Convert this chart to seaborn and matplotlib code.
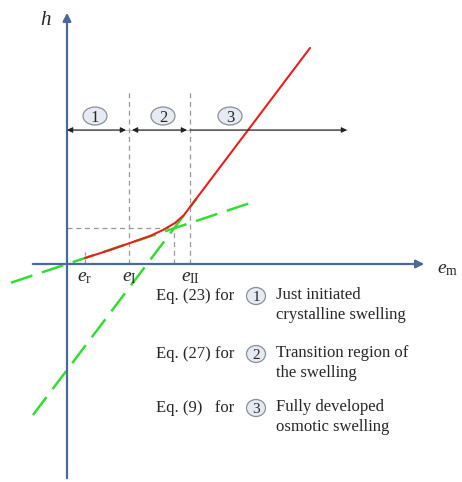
import matplotlib
matplotlib.use("Agg")
import matplotlib.pyplot as plt
from matplotlib.patches import Ellipse
import pandas as pd
import seaborn as sns

# schematic coordinates (origin at e = 0, h = 0)
curve_e = [18, 43, 63, 83, 96, 108, 117, 123, 243]
curve_h = [6, 14, 21, 28, 34, 41, 49, 57, 216]

tangent1_e = [-56, 187]
tangent1_h = [-18.7, 62.3]
tangent2_e = [-34, 130]
tangent2_h = [-151, 66]

e_r, e_I, e_cross, e_II = 18, 62, 107, 123
h_cross = 36
region_top = 175
arrow_h = 134
arrow_end = 280
region_labels = ["1", "2", "3"]
region_centers = [28, 96, 163]

eq_names = ["Eq. (23) for", "Eq. (27) for", "Eq. (9)   for"]
eq_desc = ["Just initiated\ncrystalline swelling",
           "Transition region of\nthe swelling",
           "Fully developed\nosmotic swelling"]
eq_rows = [-32, -90, -144]

sns.set_style("white")
plt.rcParams["font.family"] = ["Liberation Serif", "DejaVu Serif"]
plt.rcParams["mathtext.fontset"] = "custom"
plt.rcParams["mathtext.rm"] = "Liberation Serif"
plt.rcParams["mathtext.it"] = "Liberation Serif:italic"

fig = plt.figure(figsize=(4.62, 4.82), dpi=100)
ax = fig.add_axes([0, 0, 1, 1])
ax.set_xlim(-67, 395)
ax.set_ylim(-218, 264)
ax.axis("off")

axis_col = "#4a6a9a"
ax.annotate("", xy=(360, 0), xytext=(-37, 0),
            arrowprops=dict(arrowstyle="-|>", color=axis_col, lw=1.6, mutation_scale=12))
ax.annotate("", xy=(0, 254), xytext=(0, -217),
            arrowprops=dict(arrowstyle="-|>", color=axis_col, lw=1.6, mutation_scale=12))
ax.text(-21, 244, "$h$", fontsize=15, fontweight="bold", ha="center", va="center")
ax.text(381, -5, r"$e_\mathrm{m}$", fontsize=14, ha="center", va="center")

# helper dashed lines
grey = "#999999"
dash_kw = dict(color=grey, lw=0.9, ls=(0, (4, 3)))
ax.plot([e_I, e_I], [0, region_top], **dash_kw)
ax.plot([e_II, e_II], [0, region_top], **dash_kw)
ax.plot([0, e_cross], [h_cross, h_cross], **dash_kw)
ax.plot([e_cross, e_cross], [0, h_cross], **dash_kw)
ax.plot([e_r, e_r], [0, 12], **dash_kw)

# region arrows
akw = dict(color="#222222", lw=0.8, mutation_scale=8, shrinkA=0, shrinkB=0)
ax.annotate("", xy=(e_I - 3, arrow_h), xytext=(0, arrow_h),
            arrowprops=dict(arrowstyle="<|-|>", **akw))
ax.annotate("", xy=(e_II - 3, arrow_h), xytext=(e_I + 3, arrow_h),
            arrowprops=dict(arrowstyle="<|-|>", **akw))
ax.annotate("", xy=(arrow_end, arrow_h), xytext=(e_II, arrow_h),
            arrowprops=dict(arrowstyle="-|>", **akw))
ax.plot([0, arrow_end], [arrow_h, arrow_h], color="#bbbbbb", lw=0.8, zorder=0)


def circled(x, y, lab, w, h, size):
    ax.add_patch(Ellipse((x, y), w, h, fc="#e6eaf2", ec="#8a8f99", lw=0.9, zorder=3))
    ax.text(x, y, lab, fontsize=size, ha="center", va="center_baseline", zorder=4)


for lab, xc in zip(region_labels, region_centers):
    circled(xc, 148, lab, 24, 18, 12)

# tangents and curve
green = "#33dd33"
sns.lineplot(x=tangent1_e, y=tangent1_h, ax=ax, color=green, lw=1.8,
             linestyle=(0, (9, 4)), sort=False)
sns.lineplot(x=tangent2_e, y=tangent2_h, ax=ax, color=green, lw=1.8,
             linestyle=(0, (9, 4)), sort=False)
curve = pd.DataFrame({"e": curve_e, "h": curve_h})
sns.lineplot(data=curve, x="e", y="h", ax=ax, color="#e8201c", lw=1.5, sort=False)

# e-axis labels
for xv, lab in [(e_r, r"$e_\mathrm{r}$"), (e_I, r"$e_\mathrm{I}$"), (e_II, r"$e_\mathrm{II}$")]:
    ax.text(xv, -13, lab, fontsize=14, ha="center", va="center")

# legend text
for name, desc, yv, lab in zip(eq_names, eq_desc, eq_rows, region_labels):
    ax.text(89, yv, name, fontsize=12, ha="left", va="center")
    circled(189, yv, lab, 19, 17, 11)
    ax.text(209, yv + 9, desc, fontsize=12, ha="left", va="top", linespacing=1.3)

ax.set_xlabel("")
ax.set_ylabel("")
fig.savefig("out.png", dpi=100)
